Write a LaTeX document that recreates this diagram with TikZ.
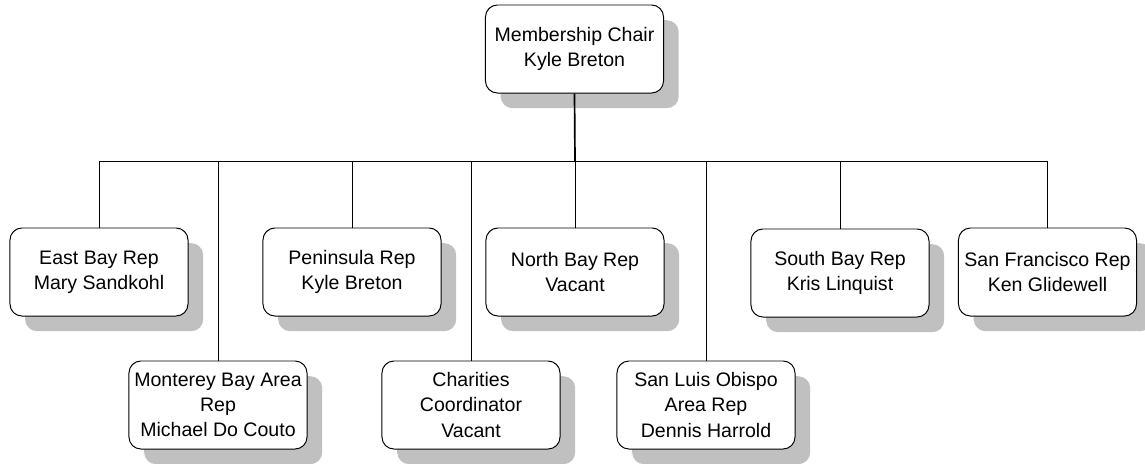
\documentclass[tikz,border=0pt]{standalone}
\usepackage{fontspec}
\setmainfont{Liberation Sans}
\usetikzlibrary{shadows}
\definecolor{shadowgray}{RGB}{192,192,192}
\tikzset{
  member/.style={draw, rounded corners=0.3cm, fill=white, align=center,
    minimum width=4.45cm, minimum height=2.2cm, inner sep=2pt, line width=0.7pt,
    font=\fontsize{13.9}{17.8}\selectfont,
    drop shadow={shadow xshift=0.38cm, shadow yshift=-0.38cm, fill=shadowgray, opacity=1}},
  link/.style={line width=0.7pt}
}

\begin{document}
\begin{tikzpicture}[x=0.025cm,y=-0.025cm]
		\useasboundingbox (0,0) rectangle (1145,463);
		% chair
		\node[member] (chair) at (574.5,49) {Membership Chair\\Kyle Breton};
		% first row
		\node[member] (eastbay) at (99,272) {East Bay Rep\\Mary Sandkohl};
		\node[member] (peninsula) at (352,272) {Peninsula Rep\\Kyle Breton};
		\node[member] (northbay) at (575,272) {North Bay Rep\\Vacant};
		\node[member] (southbay) at (840,273) {South Bay Rep\\Kris Linquist};
		\node[member] (sanfran) at (1047.5,272) {San Francisco Rep\\Ken Glidewell};
		% second row
		\node[member] (monterey) at (218,405) {Monterey Bay Area\\Rep\\Michael Do Couto};
		\node[member] (charities) at (471,405) {Charities\\Coordinator\\Vacant};
		\node[member] (slo) at (706,405) {San Luis Obispo\\Area Rep\\Dennis Harrold};
		% connectors
		\coordinate (bus) at (575,161);
		\draw[link, line width=1.2pt] (chair.south) -- (bus);
		\draw[link] (bus -| eastbay.north) -- (bus -| sanfran.north);
		\foreach \n in {eastbay,peninsula,northbay,southbay,sanfran,monterey,charities,slo}
			\draw[link] (bus -| \n.north) -- (\n.north);
	\end{tikzpicture}
\end{document}
